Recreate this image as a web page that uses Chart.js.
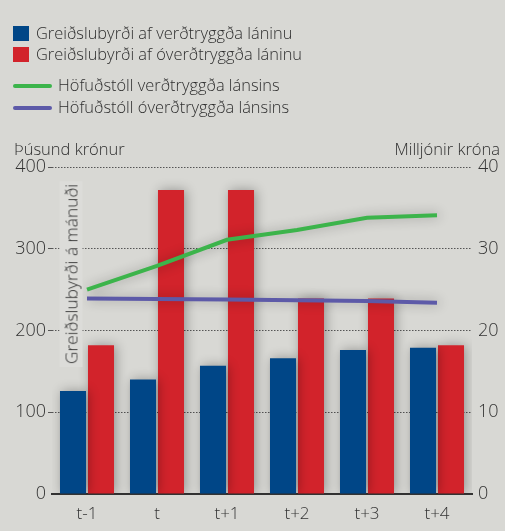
<!DOCTYPE html>
<html>
<head>
<meta charset="utf-8">
<title>Greiðslubyrði</title>
<script src="https://cdn.jsdelivr.net/npm/chart.js@4.4.1/dist/chart.umd.min.js"></script>
<style>
  body { margin:0; background:#d8d8d4; font-family:"Open Sans", sans-serif; font-weight:300; color:#2e2e2e; }
  #wrap { position:relative; width:505px; height:531px; overflow:hidden; }
  #c { position:absolute; left:0; top:0; }
  .lg { position:absolute; font-size:16.4px; white-space:nowrap; line-height:20px; }
  .sw { position:absolute; }
  .ttl { position:absolute; font-size:16.5px; white-space:nowrap; }
  #rot { position:absolute; left:71px; top:274px; font-size:17.3px; white-space:nowrap;
         transform:translate(-50%,-50%) rotate(-90deg); background:#dcdcd9; padding:0 3px; }
</style>
</head>
<body>
<div id="wrap">
  <canvas id="c" width="505" height="531"></canvas>

  <div class="sw" style="left:13px;top:26px;width:16px;height:15px;background:#004687"></div>
  <div class="lg" style="left:36px;top:23px">Greiðslubyrði af verðtryggða láninu</div>
  <div class="sw" style="left:13px;top:47px;width:16px;height:15px;background:#d2232b"></div>
  <div class="lg" style="left:36px;top:44px">Greiðslubyrði af óverðtryggða láninu</div>
  <div class="sw" style="left:13px;top:84px;width:39px;height:4px;border-radius:2px;background:#3cb44b"></div>
  <div class="lg" style="left:58px;top:75px">Höfuðstóll verðtryggða lánsins</div>
  <div class="sw" style="left:13px;top:106px;width:39px;height:4px;border-radius:2px;background:#5d5aa8"></div>
  <div class="lg" style="left:58px;top:97px">Höfuðstóll óverðtryggða lánsins</div>

  <div class="ttl" style="left:14px;top:137px">Þúsund krónur</div>
  <div class="ttl" style="right:5px;top:137px">Milljónir króna</div>
  <div id="rot">Greiðslubyrði á mánuði</div>
</div>
<script>
var labels = ["t-1", "t", "t+1", "t+2", "t+3", "t+4"];
// þúsund krónur á mánuði
var verdtryggt = [126, 140, 157, 166, 176, 179];
var overdtryggt = [182, 372, 372, 239, 239, 182];
// milljónir króna
var hofudstollVerd = [25.0, 27.9, 31.1, 32.3, 33.8, 34.1];
var hofudstollOverd = [23.9, 23.85, 23.8, 23.7, 23.6, 23.4];

var shadow = {
  id: 'shadow',
  beforeDatasetDraw: function(chart, args) {
    var ctx = chart.ctx;
    ctx.save();
    ctx.shadowColor = 'rgba(0,0,0,0.32)';
    ctx.shadowBlur = 12;
    ctx.shadowOffsetX = 2;
    ctx.shadowOffsetY = 0;
  },
  afterDatasetDraw: function(chart) { chart.ctx.restore(); }
};

var tickFont = { family: "Open Sans", size: 18, weight: 300 };

new Chart(document.getElementById("c"), {
  type: 'bar',
  data: {
    labels: labels,
    datasets: [
      { type:'line', data: hofudstollVerd, yAxisID:'y1', borderColor:'#3cb44b', borderWidth:4,
        pointRadius:0, tension:0, order:0 },
      { type:'line', data: hofudstollOverd, yAxisID:'y1', borderColor:'#5d5aa8', borderWidth:4,
        pointRadius:0, tension:0, order:0 },
      { data: verdtryggt, backgroundColor:'#004687', yAxisID:'y', order:1,
        categoryPercentage:0.8, barPercentage:0.93 },
      { data: overdtryggt, backgroundColor:'#d2232b', yAxisID:'y', order:1,
        categoryPercentage:0.8, barPercentage:0.93 }
    ]
  },
  options: {
    responsive:false,
    animation:false,
    events:[],
    layout:{ padding:{ top:167, left:0, right:0, bottom:0 } },
    plugins:{ legend:{display:false}, tooltip:{enabled:false}, title:{display:false} },
    scales:{
      x:{
        grid:{ display:false },
        border:{ display:true, color:'#333', width:2 },
        ticks:{ color:'#333', font:{ family:"Open Sans", size:17, weight:300 }, padding:2 },
        afterFit:function(s){ s.height = 37; }
      },
      y:{
        position:'left', min:0, max:400,
        ticks:{ stepSize:100, color:'#333', font:tickFont, padding:2 },
        grid:{ color:function(c){ return c.tick && c.tick.value === 0 ? 'rgba(0,0,0,0)' : '#555'; },
               lineWidth:1, drawTicks:true, tickLength:4 },
        border:{ display:false, dash:[1.5,1.5] },
        afterFit:function(s){ s.width = 52; }
      },
      y1:{
        position:'right', min:0, max:40,
        ticks:{ stepSize:10, color:'#333', font:tickFont, padding:2 },
        grid:{ display:false, drawOnChartArea:false, tickLength:4 },
        border:{ display:false },
        afterFit:function(s){ s.width = 33; }
      }
    }
  },
  plugins:[shadow]
});
</script>
</body>
</html>
